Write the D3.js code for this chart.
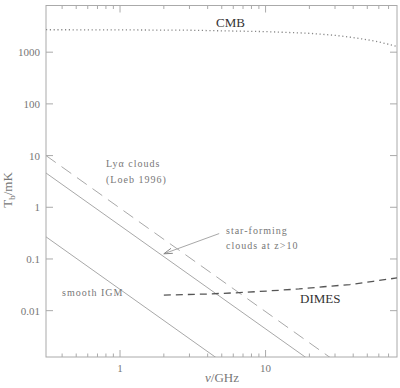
<!DOCTYPE html>
<html>
<head>
<meta charset="utf-8">
<script src="https://cdn.jsdelivr.net/npm/d3@7"></script>
<style>
  body { margin: 0; background: #fff; }
  svg { display: block; }
</style>
</head>
<body>
<div id="chart"></div>
<script>
// frequencies in GHz, brightness temperature in mK
var cmbNu = [0.31, 1, 3, 10, 20, 30, 40, 50, 60, 70, 80]
var cmbT = [2720, 2700, 2660, 2500, 2320, 2120, 1920, 1740, 1580, 1420, 1290]

var lyaNu = [0.31, 28]
var lyaT = [10, 0.00122]

var starNu = [0.31, 19.5]
var starT = [4.6, 0.00117]

var igmNu = [0.31, 4.6]
var igmT = [0.268, 0.00122]

var dimesNu = [2, 4, 7, 11, 17, 25, 38, 55, 80]
var dimesT = [0.020, 0.0210, 0.0225, 0.0243, 0.0263, 0.029, 0.032, 0.037, 0.043]

var arrowFrom = [4.8, 0.31]
var arrowTo = [2.0, 0.126]

var xMajor = [1, 10]
var xMinor = [0.4, 0.5, 0.6, 0.7, 0.8, 0.9, 2, 3, 4, 5, 6, 7, 8, 9, 20, 30, 40, 50, 60, 70]
var yMajor = [0.01, 0.1, 1, 10, 100, 1000]
var yLabels = ["0.01", "0.1", "1", "10", "100", "1000"]

var W = 400, H = 388
var margin = {top: 5.5, right: 3, bottom: 31, left: 46}
var w = W - margin.left - margin.right
var h = H - margin.top - margin.bottom

var axisCol = "#aaa", textCol = "#777", lineCol = "#a8a8a8"

var svg = d3.select("#chart").append("svg").attr("width", W).attr("height", H)
var g = svg.append("g").attr("transform", "translate(" + margin.left + "," + margin.top + ")")

var x = d3.scaleLog().domain([0.31, 80]).range([0, w])
var y = d3.scaleLog().domain([0.00127, 8000]).range([h, 0])

svg.append("defs").append("clipPath").attr("id", "clip")
  .append("rect").attr("width", w).attr("height", h)

// frame
g.append("rect").attr("width", w).attr("height", h)
  .attr("fill", "none").attr("stroke", axisCol).attr("stroke-width", 1)

// ticks (inward, all four sides)
function tickLines(vals, len) {
  vals.forEach(function(v) {
    g.append("line").attr("x1", x(v)).attr("x2", x(v)).attr("y1", h).attr("y2", h - len)
      .attr("stroke", axisCol)
    g.append("line").attr("x1", x(v)).attr("x2", x(v)).attr("y1", 0).attr("y2", len)
      .attr("stroke", axisCol)
  })
}
tickLines(xMajor, 7)
tickLines(xMinor, 3.5)
yMajor.forEach(function(v) {
  g.append("line").attr("x1", 0).attr("x2", 7).attr("y1", y(v)).attr("y2", y(v)).attr("stroke", axisCol)
  g.append("line").attr("x1", w).attr("x2", w - 7).attr("y1", y(v)).attr("y2", y(v)).attr("stroke", axisCol)
})

// tick labels
g.selectAll(".xl").data(xMajor).enter().append("text")
  .attr("x", function(d) { return x(d) }).attr("y", h + 15)
  .attr("text-anchor", "middle").attr("font-family", "Liberation Serif").attr("font-size", 11)
  .attr("fill", textCol).text(function(d) { return d })
g.selectAll(".yl").data(yMajor).enter().append("text")
  .attr("x", -6).attr("y", function(d) { return y(d) + 4 })
  .attr("text-anchor", "end").attr("font-family", "Liberation Serif").attr("font-size", 11)
  .attr("fill", textCol).text(function(d, i) { return yLabels[i] })

// axis titles
var xt = svg.append("text").attr("x", 222).attr("y", 382).attr("text-anchor", "middle")
  .attr("font-family", "Liberation Serif").attr("font-size", 13).attr("fill", textCol)
xt.append("tspan").attr("font-style", "italic").text("ν")
xt.append("tspan").text("/GHz")

var yt = svg.append("text").attr("transform", "translate(12,190) rotate(-90)")
  .attr("text-anchor", "middle").attr("font-family", "Liberation Serif").attr("font-size", 13)
  .attr("fill", textCol)
yt.append("tspan").text("T")
yt.append("tspan").attr("font-size", 9).attr("dy", 3).text("b")
yt.append("tspan").attr("dy", -3).text("/mK")

// curves
var line = d3.line().x(function(d) { return x(d[0]) }).y(function(d) { return y(d[1]) })
var plot = g.append("g").attr("clip-path", "url(#clip)")

function series(nu, t, col, dash, sw) {
  plot.append("path").datum(d3.zip(nu, t)).attr("d", line)
    .attr("fill", "none").attr("stroke", col).attr("stroke-width", sw)
    .attr("stroke-dasharray", dash)
}
series(cmbNu, cmbT, "#888", "1.2,2.6", 1.3)
series(lyaNu, lyaT, lineCol, "12,7", 1)
series(starNu, starT, lineCol, null, 1)
series(igmNu, igmT, lineCol, null, 1)
series(dimesNu, dimesT, "#555", "7,5", 1.3)

// arrow to star-forming line
var ax0 = x(arrowFrom[0]), ay0 = y(arrowFrom[1]), ax1 = x(arrowTo[0]), ay1 = y(arrowTo[1])
g.append("line").attr("x1", ax0).attr("y1", ay0).attr("x2", ax1).attr("y2", ay1)
  .attr("stroke", lineCol)
var ang = Math.atan2(ay0 - ay1, ax0 - ax1)
var hl = 9
g.append("path")
  .attr("d", "M" + (ax1 + hl * Math.cos(ang + 0.3)) + "," + (ay1 + hl * Math.sin(ang + 0.3)) +
    "L" + ax1 + "," + ay1 +
    "L" + (ax1 + hl * Math.cos(ang - 0.3)) + "," + (ay1 + hl * Math.sin(ang - 0.3)))
  .attr("fill", "none").attr("stroke", "#888")

// annotations
function note(tx, ty, str, size, col, sp) {
  svg.append("text").attr("x", tx).attr("y", ty).attr("font-family", "Liberation Serif")
    .attr("font-size", size).attr("fill", col).attr("letter-spacing", sp).text(str)
}
note(216, 27, "CMB", 13, "#333", 0)
note(300, 303, "DIMES", 13, "#333", 0)
note(106, 167, "Lyα clouds", 10, textCol, 1)
note(106, 183, "(Loeb 1996)", 10, textCol, 1)
note(226, 234, "star-forming", 10, textCol, 1)
note(226, 249, "clouds at z>10", 10, textCol, 1)
note(62, 296, "smooth IGM", 10, textCol, 1)
</script>
</body>
</html>
